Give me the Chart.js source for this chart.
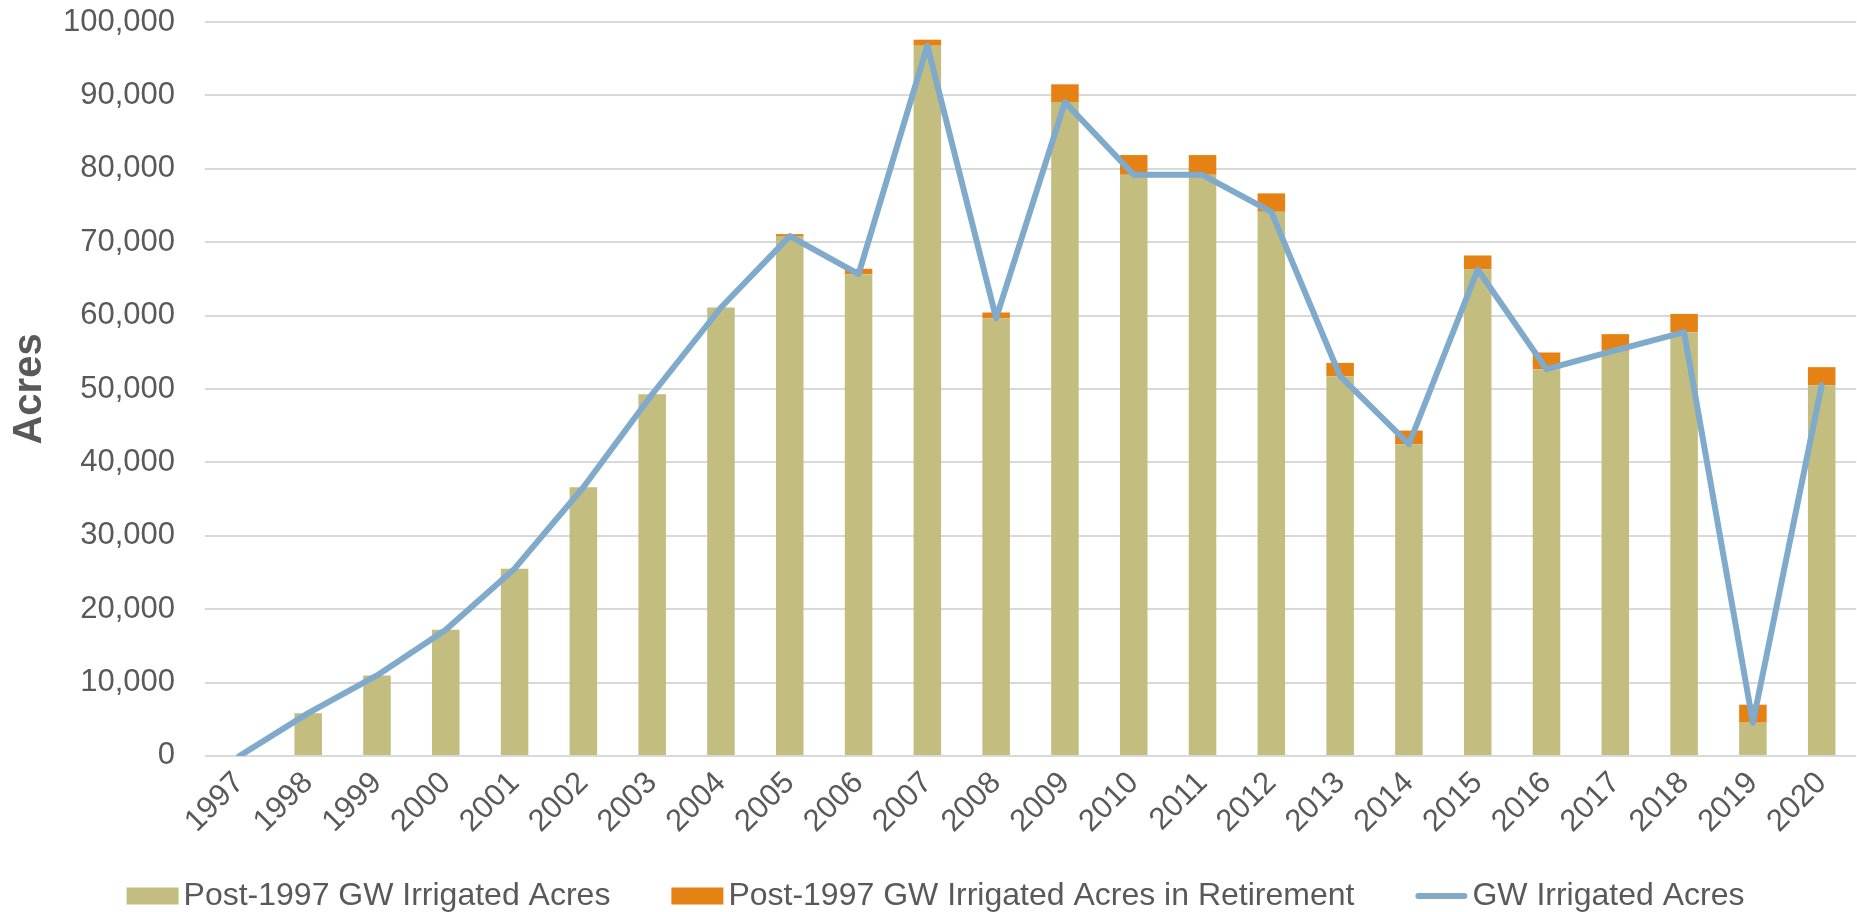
<!DOCTYPE html>
<html>
<head>
<meta charset="utf-8">
<script src="https://cdn.jsdelivr.net/npm/chart.js@4.4.1/dist/chart.umd.min.js"></script>
<style>
  html, body { margin: 0; padding: 0; background: #ffffff; }
  #wrap { width: 1857px; height: 912px; overflow: hidden; }
</style>
</head>
<body>
<div id="wrap"><canvas id="c" width="1857" height="912"></canvas></div>
<script>
const years = ['1997','1998','1999','2000','2001','2002','2003','2004','2005','2006','2007','2008',
               '2009','2010','2011','2012','2013','2014','2015','2016','2017','2018','2019','2020'];
const postIrrigated = [0, 5830, 10970, 17200, 25520, 36610, 49280, 61100, 70830, 65640, 96770, 59650,
                       89090, 79180, 79180, 74140, 51740, 42470, 66280, 52700, 55200, 57740, 4530, 50510];
const postRetired = [0, 0, 0, 0, 0, 0, 0, 0, 270, 730, 820, 770,
                     2420, 2690, 2690, 2510, 1810, 1860, 1910, 2270, 2270, 2490, 2450, 2460];
const gwIrrigated = [0, 5830, 10970, 17200, 25520, 36610, 49280, 61100, 70830, 65640, 96770, 59650,
                     89090, 79180, 79180, 74140, 51740, 42470, 66280, 52700, 55250, 57740, 4530, 50510];
const seriesNames = ['Post-1997 GW Irrigated Acres', 'Post-1997 GW Irrigated Acres in Retirement', 'GW Irrigated Acres'];
const yAxisTitle = 'Acres';

const FONT = '"Liberation Sans", Arial, Helvetica, sans-serif';
const TEXT = '#595959';
const C_KHAKI = '#c3bd80';
const C_ORANGE = '#e58213';
const C_BLUE = '#7faacb';

const legendPlugin = {
  id: 'bottomLegend',
  afterDraw(chart) {
    const ctx = chart.ctx;
    const ds = chart.data.datasets;
    const boxW = 52, boxH = 17, gapText = 5, gapItem = 61;
    ctx.save();
    ctx.font = '32px ' + FONT;
    ctx.textBaseline = 'middle';
    ctx.textAlign = 'left';
    const widths = ds.map(d => ctx.measureText(d.label).width);
    let total = 0;
    widths.forEach((w, i) => { total += boxW + gapText + w + (i < widths.length - 1 ? gapItem : 0); });
    let x = (chart.width - total) / 2 + 7;
    const yc = 896;
    ds.forEach((d, i) => {
      if (d.type === 'line') {
        ctx.strokeStyle = d.borderColor;
        ctx.lineWidth = 6;
        ctx.lineCap = 'round';
        ctx.beginPath();
        ctx.moveTo(x + 3, yc);
        ctx.lineTo(x + boxW - 3, yc);
        ctx.stroke();
      } else {
        ctx.fillStyle = d.backgroundColor;
        ctx.fillRect(x, yc - boxH / 2, boxW, boxH);
      }
      ctx.fillStyle = TEXT;
      ctx.fillText(d.label, x + boxW + gapText, yc);
      x += boxW + gapText + widths[i] + gapItem;
    });
    ctx.restore();
  }
};

new Chart(document.getElementById('c'), {
  type: 'bar',
  data: {
    labels: years,
    datasets: [
      { type: 'bar', label: seriesNames[0], data: postIrrigated, backgroundColor: C_KHAKI,
        stack: 'bars', order: 1, categoryPercentage: 1.0, barPercentage: 0.4 },
      { type: 'bar', label: seriesNames[1], data: postRetired, backgroundColor: C_ORANGE,
        stack: 'bars', order: 1, categoryPercentage: 1.0, barPercentage: 0.4 },
      { type: 'line', label: seriesNames[2], data: gwIrrigated, borderColor: C_BLUE, backgroundColor: C_BLUE,
        borderWidth: 6, pointRadius: 0, tension: 0, stack: 'line', order: 0,
        borderJoinStyle: 'round', borderCapStyle: 'round' }
    ]
  },
  options: {
    responsive: false,
    animation: false,
    devicePixelRatio: 1,
    layout: { padding: { left: 0, right: -5, top: 22, bottom: 63 } },
    plugins: { legend: { display: false }, tooltip: { enabled: false } },
    scales: {
      x: {
        stacked: true,
        grid: { display: false, drawTicks: false },
        border: { display: false },
        ticks: { autoSkip: false, maxRotation: 45, minRotation: 45, padding: 9, color: TEXT,
                 font: { size: 31, family: FONT } }
      },
      y: {
        stacked: true,
        min: 0, max: 100000,
        afterFit: (scale) => { scale.width = 205; },
        grid: { color: '#d9d9d9', lineWidth: 2, drawTicks: true, tickLength: 30, tickColor: 'rgba(0,0,0,0)' },
        border: { display: false },
        ticks: { stepSize: 10000, padding: 0, color: TEXT, font: { size: 31, family: FONT },
                 callback: v => Number(v).toLocaleString('en-US') },
        title: { display: true, text: yAxisTitle, color: TEXT,
                 font: { size: 40, weight: 'bold', family: FONT }, padding: { top: 6, bottom: 5 } }
      }
    }
  },
  plugins: [legendPlugin]
});
</script>
</body>
</html>
